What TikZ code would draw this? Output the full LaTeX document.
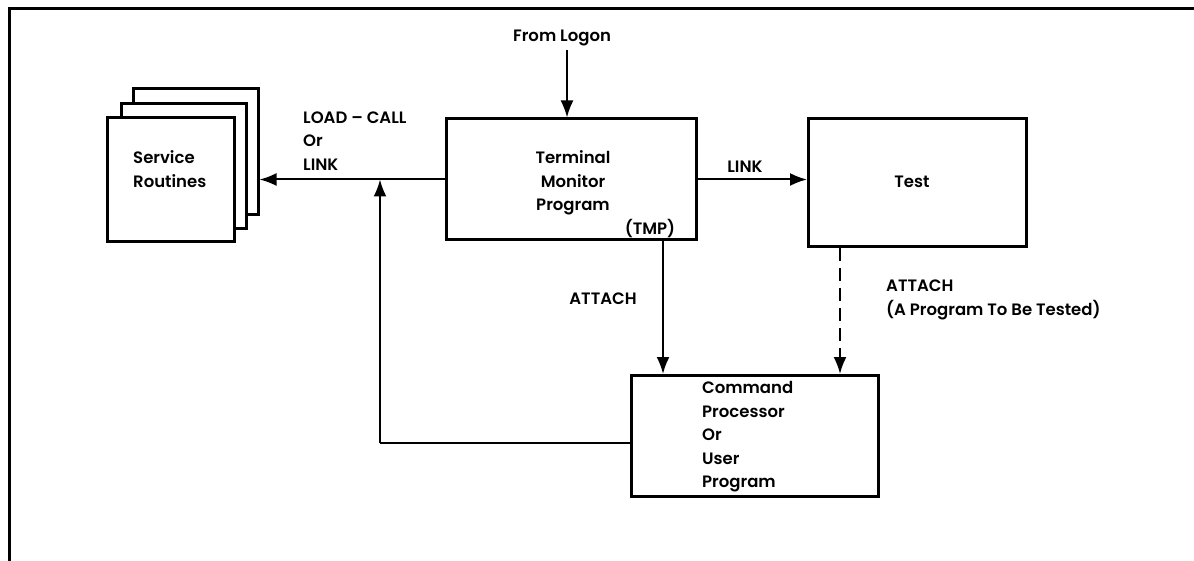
\documentclass[tikz,border=0pt]{standalone}
\usepackage{fontspec}
\setmainfont{Poppins SemiBold}
\usetikzlibrary{arrows.meta}
\begin{document}
\begin{tikzpicture}[x=1pt,y=-1pt,
  box/.style={draw,line width=3pt,fill=white,inner sep=0pt},
  lbl/.style={inner sep=0pt,font=\fontsize{16.5}{23.5}\selectfont},
  conn/.style={line width=2pt},
  arr/.style={conn,-{Latex[length=17pt,width=13pt]}},
  frame/.style={line width=3pt}]
\useasboundingbox (0,0) rectangle (1194,561);
\draw[frame] (9,561) -- (9,9) -- (1194,9);
% service routines stack
\node[box,minimum width=125pt,minimum height=126pt] (sr3) at (195.5,152) {};
\node[box,minimum width=125pt,minimum height=125pt] (sr2) at (183.5,166.5) {};
\node[box,minimum width=127pt,minimum height=124pt] (sr1) at (170.5,180) {};
\node[lbl,anchor=west,align=left] (srt) at (133,169) {Service\\Routines};
% main boxes
\node[box,minimum width=250pt,minimum height=121pt] (tmp) at (571,179.5) {};
\node[lbl,align=center] (tmpt) at (573,183) {Terminal\\Monitor\\Program};
\node[lbl] (tmpa) at (650,229) {(TMP)};
\node[box,minimum width=218pt,minimum height=128pt] (test) at (917.5,182.5) {};
\node[lbl] (testt) at (912,182) {Test};
\node[box,minimum width=247pt,minimum height=121pt] (cmd) at (755,436) {};
\node[lbl,anchor=west,align=left] (cmdt) at (702,437) {Command\\Processor\\Or\\User\\Program};
% labels
\node[lbl] (logon) at (562,38) {From Logon};
\node[lbl,anchor=west,align=left] (load) at (303,141) {LOAD – CALL\\Or\\LINK};
\node[lbl] (link) at (745,167) {LINK};
\node[lbl] (att1) at (603,299) {ATTACH};
\node[lbl,anchor=west,align=left] (att2) at (886,300) {ATTACH\\(A Program To Be Tested)};
% connectors
\coordinate (lg) at (567,50);
\draw[arr] (lg) -- (lg |- tmp.north);
\draw[arr] (tmp.west) -- (tmp.west -| sr3.east);
\draw[arr] (tmp.east) -- (tmp.east -| test.west);
\draw[arr] ([xshift=92pt]tmp.south) -- ([xshift=92pt]tmp.south |- cmd.north);
\draw[arr,dash pattern=on 13pt off 7pt] ([xshift=-77.5pt]test.south) -- ([xshift=-77.5pt]test.south |- cmd.north);
\coordinate (ret) at (380,443);
\draw[conn] (cmd.west |- ret) -- (ret);
\draw[arr] (ret) -- (ret |- tmp.west);
\end{tikzpicture}
\end{document}
